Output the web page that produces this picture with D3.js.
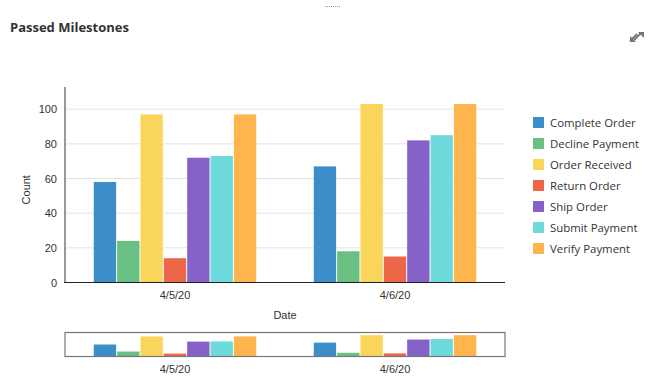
<!DOCTYPE html>
<html>
<head>
<meta charset="utf-8">
<script src="https://cdn.jsdelivr.net/npm/d3@7"></script>
<style>
  body { margin: 0; background: #fff; font-family: "Open Sans", "Noto Sans", sans-serif; }
  .grid line { stroke: #e3e3e3; }
  .tick text { fill: #333; font-size: 11px; font-family: "Liberation Sans", Arial, sans-serif; }
</style>
</head>
<body>
<script>
//chart data
var dates = ["4/5/20", "4/6/20"];
var seriesNames = ["Complete Order", "Decline Payment", "Order Received", "Return Order", "Ship Order", "Submit Payment", "Verify Payment"];
var completeOrder = [58, 67];
var declinePayment = [24, 18];
var orderReceived = [97, 103];
var returnOrder = [14, 15];
var shipOrder = [72, 82];
var submitPayment = [73, 85];
var verifyPayment = [97, 103];
var yTicks = [0, 20, 40, 60, 80, 100];
var colors = ["#3c8ec8", "#68c182", "#fad55c", "#ed6647", "#8561c8", "#6ddbdb", "#ffb54d"];

var seriesValues = [completeOrder, declinePayment, orderReceived, returnOrder, shipOrder, submitPayment, verifyPayment];

//build one row per date
var rows = dates.map(function(d, i){
    return {
        date: d,
        values: seriesNames.map(function(s, j){ return {name: s, value: seriesValues[j][i]}; })
    };
});

var width = 658, height = 387;

var svg = d3.select("body")
    .append("svg")
    .attr("width", width)
    .attr("height", height);

//title
svg.append("text")
    .attr("x", 10)
    .attr("y", 32)
    .attr("font-size", 13)
    .attr("font-weight", "bold")
    .attr("fill", "#333")
    .text("Passed Milestones");

//drag handle at top
svg.append("line")
    .attr("x1", 325).attr("x2", 341)
    .attr("y1", 6.5).attr("y2", 6.5)
    .attr("stroke", "#999")
    .attr("stroke-dasharray", "1,1");

//expand icon
var icon = svg.append("g").attr("fill", "#777").attr("stroke", "#777");
icon.append("path").attr("d", "M634,40 L641,33").attr("stroke-width", 1.8);
icon.append("path").attr("d", "M638,32 L644,32 L644,38 Z").attr("stroke", "none");
icon.append("path").attr("d", "M630,42 L636,42 L630,36 Z").attr("stroke", "none");
icon.append("path").attr("d", "M630,41 L637,34").attr("stroke-width", 1.8);

//main plot
var x0 = 65, x1 = 505, yTop = 87, yBase = 282.5;

var x = d3.scaleBand()
    .domain(dates)
    .range([x0, x1]);

var xInner = d3.scaleBand()
    .domain(seriesNames)
    .range([0, x.bandwidth() * 0.743]);

var y = d3.scaleLinear()
    .domain([0, 112.8])
    .range([yBase, yTop]);

//gridlines
svg.append("g")
    .attr("class", "grid")
    .selectAll("line")
    .data(yTicks.slice(1))
    .enter()
    .append("line")
    .attr("x1", x0).attr("x2", x1)
    .attr("y1", function(d){ return y(d); })
    .attr("y2", function(d){ return y(d); });

//bars
var groups = svg.selectAll(".group")
    .data(rows)
    .enter()
    .append("g")
    .attr("class", "group")
    .attr("transform", function(d){
        return "translate(" + (x(d.date) + x.bandwidth() * (1 - 0.743) / 2) + ",0)";
    });

groups.selectAll("rect")
    .data(function(d){ return d.values; })
    .enter()
    .append("rect")
    .attr("x", function(d){ return xInner(d.name) + 0.5; })
    .attr("width", xInner.bandwidth() - 1)
    .attr("y", function(d){ return y(d.value); })
    .attr("height", function(d){ return yBase - y(d.value); })
    .attr("fill", function(d, i){ return colors[i]; });

//y axis
var yAxis = svg.append("g")
    .attr("transform", "translate(" + x0 + ",0)")
    .call(d3.axisLeft(y).tickValues(yTicks).tickSize(0).tickPadding(8));
yAxis.select(".domain").remove();
svg.append("line")
    .attr("x1", x0).attr("x2", x0)
    .attr("y1", yTop).attr("y2", yBase)
    .attr("stroke", "#777").attr("stroke-width", 1.5);

//x axis
var xAxis = svg.append("g")
    .attr("transform", "translate(0," + yBase + ")")
    .call(d3.axisBottom(x).tickSize(0).tickPadding(9));
xAxis.select(".domain").remove();
svg.append("line")
    .attr("x1", x0 - 1).attr("x2", x1)
    .attr("y1", yBase).attr("y2", yBase)
    .attr("stroke", "#222").attr("stroke-width", 1);

//axis titles
svg.append("text")
    .attr("transform", "translate(30," + ((yTop + yBase) / 2 + 5) + ") rotate(-90)")
    .attr("text-anchor", "middle")
    .attr("font-size", 11)
    .attr("fill", "#333")
    .attr("font-family", "Liberation Sans, Arial, sans-serif")
    .text("Count");

svg.append("text")
    .attr("x", (x0 + x1) / 2)
    .attr("y", 319)
    .attr("text-anchor", "middle")
    .attr("font-size", 11)
    .attr("fill", "#333")
    .attr("font-family", "Liberation Sans, Arial, sans-serif")
    .text("Date");

//overview strip
var oTop = 332.5, oBase = 356.5;
var yo = d3.scaleLinear()
    .domain([0, 116])
    .range([oBase, oTop]);

var oGroups = svg.selectAll(".ogroup")
    .data(rows)
    .enter()
    .append("g")
    .attr("class", "ogroup")
    .attr("transform", function(d){
        return "translate(" + (x(d.date) + x.bandwidth() * (1 - 0.743) / 2) + ",0)";
    });

oGroups.selectAll("rect")
    .data(function(d){ return d.values; })
    .enter()
    .append("rect")
    .attr("x", function(d){ return xInner(d.name) + 0.5; })
    .attr("width", xInner.bandwidth() - 1)
    .attr("y", function(d){ return yo(d.value); })
    .attr("height", function(d){ return oBase - yo(d.value); })
    .attr("fill", function(d, i){ return colors[i]; });

svg.append("rect")
    .attr("x", x0).attr("y", oTop)
    .attr("width", x1 - x0).attr("height", oBase - oTop)
    .attr("fill", "none")
    .attr("stroke", "#777")
    .attr("stroke-width", 1.2);

var oAxis = svg.append("g")
    .attr("transform", "translate(0," + oBase + ")")
    .call(d3.axisBottom(x).tickSize(0).tickPadding(9));
oAxis.select(".domain").remove();

//legend
var legend = svg.selectAll(".legend")
    .data(seriesNames)
    .enter()
    .append("g")
    .attr("class", "legend")
    .attr("transform", function(d, i){ return "translate(533," + (117 + i * 21) + ")"; });

legend.append("rect")
    .attr("width", 11)
    .attr("height", 11)
    .attr("fill", function(d, i){ return colors[i]; });

legend.append("text")
    .attr("x", 17)
    .attr("y", 10)
    .attr("font-size", 11.4)
    .attr("fill", "#333")
    .text(function(d){ return d; });
</script>
</body>
</html>
